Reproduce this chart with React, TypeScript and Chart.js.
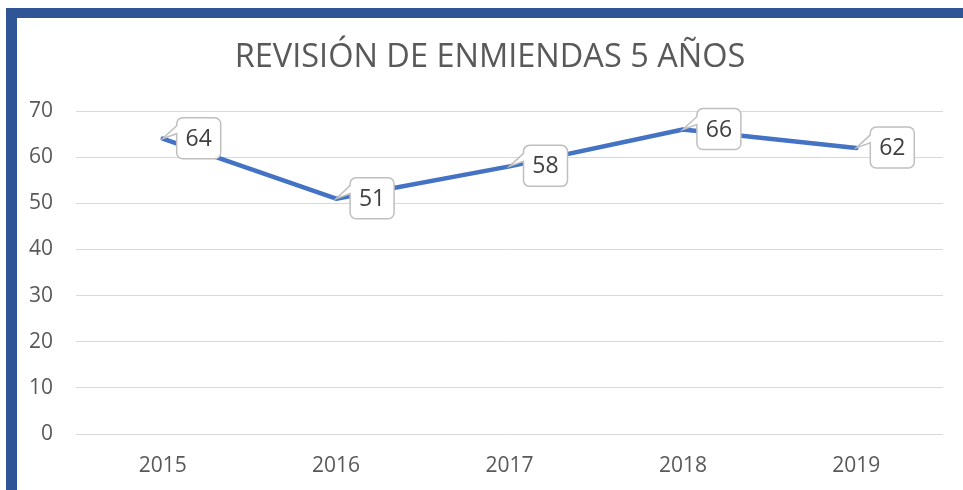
import React, { useEffect, useRef } from "react";
import { Chart, registerables } from "chart.js";

Chart.register(...registerables);

const TITLE = "REVISIÓN DE ENMIENDAS 5 AÑOS";
const YEARS = ["2015", "2016", "2017", "2018", "2019"];
const VALUES = [64, 51, 58, 66, 62];
const Y_MIN = 0;
const Y_MAX = 70;
const Y_STEP = 10;

const FONT = "'Open Sans', 'Liberation Sans', sans-serif";

const titlePlugin = {
  id: "customTitle",
  afterDraw(chart: any) {
    const ctx = chart.ctx;
    ctx.save();
    ctx.font = `400 32.5px ${FONT}`;
    ctx.fillStyle = "#595959";
    ctx.textAlign = "center";
    ctx.textBaseline = "middle";
    ctx.fillText(TITLE, chart.width / 2, 40);
    ctx.restore();
  },
};

const calloutPlugin = {
  id: "callouts",
  afterDatasetsDraw(chart: any) {
    const ctx = chart.ctx;
    const meta = chart.getDatasetMeta(0);
    const data = chart.data.datasets[0].data;
    ctx.save();
    meta.data.forEach((pt: any, i: number) => {
      const x = pt.x;
      const y = pt.y;
      const w = 44;
      const h = 41;
      const r = 6;
      const left = x + 14;
      const top = y - 21;
      const right = left + w;
      const bottom = top + h;
      ctx.beginPath();
      ctx.moveTo(left + r, top);
      ctx.lineTo(right - r, top);
      ctx.arcTo(right, top, right, top + r, r);
      ctx.lineTo(right, bottom - r);
      ctx.arcTo(right, bottom, right - r, bottom, r);
      ctx.lineTo(left + r, bottom);
      ctx.arcTo(left, bottom, left, bottom - r, r);
      ctx.lineTo(left, top + 16);
      ctx.lineTo(x, y);
      ctx.lineTo(left, top + 8);
      ctx.lineTo(left, top + r);
      ctx.arcTo(left, top, left + r, top, r);
      ctx.closePath();
      ctx.fillStyle = "#ffffff";
      ctx.fill();
      ctx.lineWidth = 1.5;
      ctx.strokeStyle = "#BFBFBF";
      ctx.stroke();
      ctx.font = `23px ${FONT}`;
      ctx.fillStyle = "#404040";
      ctx.textAlign = "center";
      ctx.textBaseline = "middle";
      ctx.fillText(String(data[i]), left + w / 2, top + h / 2 + 1);
    });
    ctx.restore();
  },
};

export default function App() {
  const ref = useRef<HTMLCanvasElement | null>(null);
  useEffect(() => {
    if (!ref.current) return;
    const chart = new Chart(ref.current, {
      type: "line",
      data: {
        labels: YEARS,
        datasets: [
          {
            data: VALUES,
            borderColor: "#4472C4",
            borderWidth: 4.5,
            pointRadius: 0,
            tension: 0,
            borderJoinStyle: "round",
            borderCapStyle: "round",
          },
        ],
      },
      options: {
        animation: false,
        responsive: false,
        maintainAspectRatio: false,
        layout: { padding: { left: 0, right: 20, top: 93, bottom: 0 } },
        plugins: {
          legend: { display: false },
          title: { display: false },
          tooltip: { enabled: false },
        },
        scales: {
          x: {
            offset: true,
            grid: { display: false, drawTicks: false },
            border: { display: false },
            ticks: {
              color: "#595959",
              font: { family: FONT, size: 21 },
              padding: 19,
              maxRotation: 0,
            },
            afterFit(scale: any) {
              scale.height = 56;
            },
          },
          y: {
            min: Y_MIN,
            max: Y_MAX,
            grid: { color: "#D9D9D9", lineWidth: 1, drawTicks: false },
            border: { display: false },
            ticks: {
              stepSize: Y_STEP,
              color: "#595959",
              font: { family: FONT, size: 21 },
              padding: 23,
            },
            afterFit(scale: any) {
              scale.width = 59;
            },
          },
        },
      },
      plugins: [titlePlugin, calloutPlugin],
    });
    return () => chart.destroy();
  }, []);

  return (
    <div
      style={{
        position: "fixed",
        left: 0,
        top: 0,
        width: 963,
        height: 490,
        background: "#ffffff",
        overflow: "hidden",
      }}
    >
      <div
        style={{
          position: "absolute",
          left: 6,
          top: 8,
          width: 1000,
          height: 600,
          borderLeft: "11px solid #2F5597",
          borderTop: "10px solid #2F5597",
          boxSizing: "content-box",
        }}
      />
      <canvas
        ref={ref}
        width={946}
        height={472}
        style={{ position: "absolute", left: 17, top: 18, width: 946, height: 472 }}
      />
    </div>
  );
}
